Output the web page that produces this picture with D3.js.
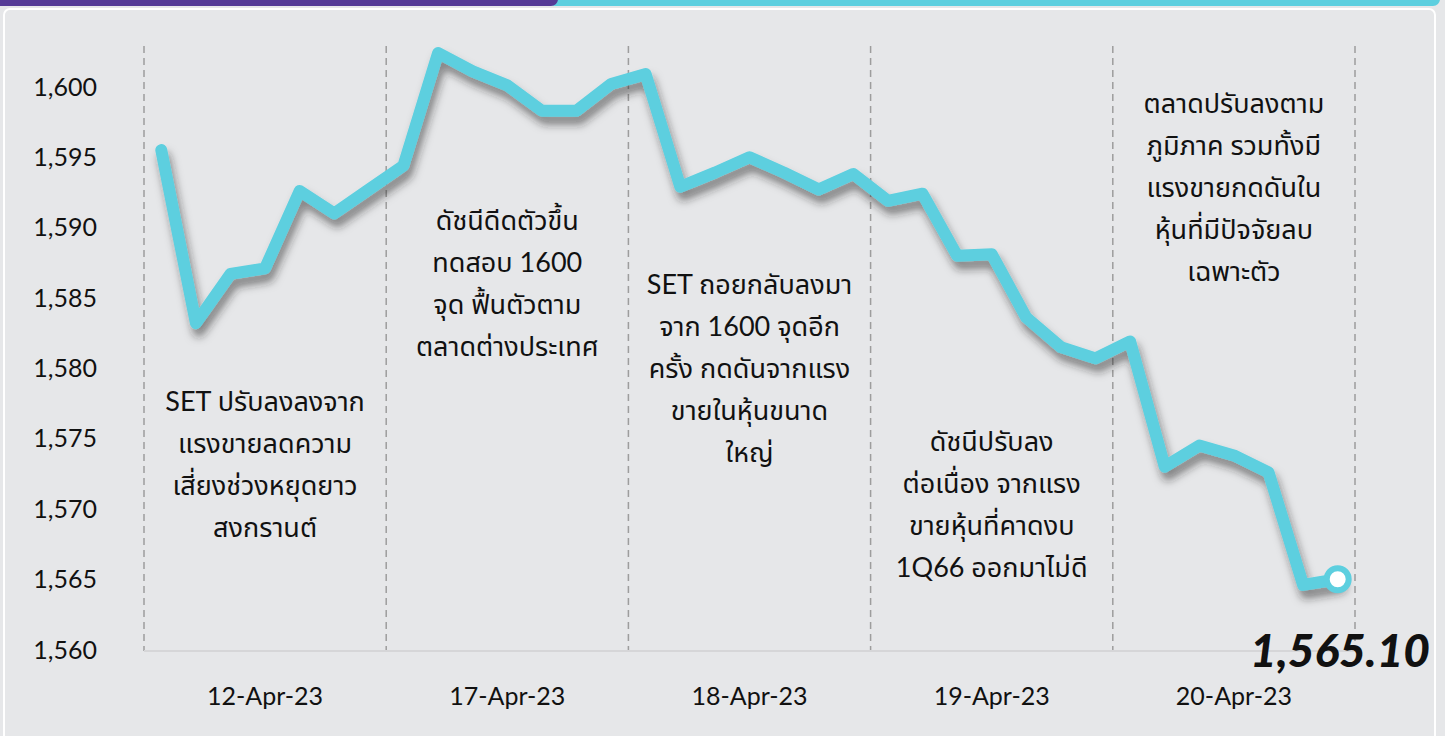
<!DOCTYPE html>
<html>
<head>
<meta charset="utf-8">
<script src="https://cdn.jsdelivr.net/npm/d3@7"></script>
<style>
  html, body { margin: 0; padding: 0; background: #e6e7e9; }
  svg { display: block; }
  text { font-family: "Lato", "Noto Sans Thai", "Noto Sans", sans-serif; fill: #111; }
</style>
</head>
<body>
<svg id="chart" width="1445" height="736"></svg>
<script>
// days on the x axis, 7 readings per day
const days = ["12-Apr-23", "17-Apr-23", "18-Apr-23", "19-Apr-23", "20-Apr-23"];
const perDay = 7;

// SET index
const setIndex = [
  1595.6, 1583.3, 1586.8, 1587.2, 1592.7, 1591.1, 1592.8,
  1594.5, 1602.5, 1601.2, 1600.2, 1598.4, 1598.4, 1600.3,
  1601.0, 1593.0, 1594.0, 1595.1, 1594.0, 1592.8, 1593.9,
  1592.0, 1592.5, 1588.1, 1588.2, 1583.7, 1581.6, 1580.8,
  1582.0, 1573.1, 1574.6, 1573.9, 1572.7, 1564.7, 1565.1
];
const lastValue = "1,565.10";

const yTicks = [1560, 1565, 1570, 1575, 1580, 1585, 1590, 1595, 1600];

const notes = [
  ["SET ปรับลงลงจาก", "แรงขายลดความ", "เสี่ยงช่วงหยุดยาว", "สงกรานต์"],
  ["ดัชนีดีดตัวขึ้น", "ทดสอบ 1600", "จุด ฟื้นตัวตาม", "ตลาดต่างประเทศ"],
  ["SET ถอยกลับลงมา", "จาก 1600 จุดอีก", "ครั้ง กดดันจากแรง", "ขายในหุ้นขนาด", "ใหญ่"],
  ["ดัชนีปรับลง", "ต่อเนื่อง จากแรง", "ขายหุ้นที่คาดงบ", "1Q66 ออกมาไม่ดี"],
  ["ตลาดปรับลงตาม", "ภูมิภาค รวมทั้งมี", "แรงขายกดดันใน", "หุ้นที่มีปัจจัยลบ", "เฉพาะตัว"]
];
const noteTop = [402, 221, 285, 442, 104];

const svg = d3.select("#chart");
const plotL = 144, plotR = 1355, plotT = 46, plotB = 651;

// frame
svg.append("rect").attr("x", 4).attr("y", 9).attr("width", 1431).attr("height", 740)
  .attr("rx", 6).attr("fill", "#e6e7e9").attr("stroke", "#fff").attr("stroke-width", 2);
svg.append("rect").attr("x", 548).attr("y", -10).attr("width", 892).attr("height", 16)
  .attr("rx", 7).attr("fill", "#5dcfdf");
svg.append("rect").attr("x", -10).attr("y", -10).attr("width", 568).attr("height", 16)
  .attr("rx", 7).attr("fill", "#553a96");

const x = d3.scalePoint().domain(d3.range(setIndex.length)).range([plotL, plotR]).padding(0.5);
const xDay = d3.scaleBand().domain(days).range([plotL, plotR]);
const y = d3.scaleLinear().domain([1560, 1603]).range([plotB, plotT]);

// day separators
const seps = d3.range(days.length + 1).map(i => plotL + i * xDay.step());
svg.append("g").selectAll("line").data(seps).join("line")
  .attr("x1", d => d).attr("x2", d => d).attr("y1", plotT).attr("y2", plotB)
  .attr("stroke", "#9d9d9d").attr("stroke-width", 1.5).attr("stroke-dasharray", "7,5");

svg.append("line").attr("x1", plotL).attr("x2", plotR).attr("y1", plotB).attr("y2", plotB)
  .attr("stroke", "#d6d6d8").attr("stroke-width", 2);

// y axis
const yAxis = svg.append("g").attr("transform", `translate(${plotL},0)`)
  .call(d3.axisLeft(y).tickValues(yTicks).tickFormat(d3.format(",")).tickSize(0).tickPadding(47));
yAxis.select(".domain").remove();
yAxis.selectAll("text").style("font-size", "25px").attr("fill", "#111").attr("dy", "0.28em");

// x axis
const xAxis = svg.append("g").attr("transform", `translate(0,${plotB})`)
  .call(d3.axisBottom(xDay).tickSize(0).tickPadding(36));
xAxis.select(".domain").remove();
xAxis.selectAll("text").style("font-size", "25px").attr("fill", "#111");

// notes
notes.forEach((lines, i) => {
  const cx = xDay(days[i]) + xDay.bandwidth() / 2;
  const t = svg.append("text").attr("text-anchor", "middle").style("font-size", "27px")
    .attr("x", cx).attr("y", noteTop[i]);
  t.selectAll("tspan").data(lines).join("tspan")
    .attr("x", cx)
    .attr("dy", (d, j) => j === 0 ? "0.35em" : 42)
    .text(d => d);
});

// line with shadow
const defs = svg.append("defs");
const f = defs.append("filter").attr("id", "shadow").attr("x", "-10%").attr("y", "-10%")
  .attr("width", "130%").attr("height", "130%");
f.append("feDropShadow").attr("dx", 3).attr("dy", 8).attr("stdDeviation", 4)
  .attr("flood-color", "#222").attr("flood-opacity", 0.5);

const line = d3.line().x((d, i) => x(i)).y(d => y(d));
svg.append("path").datum(setIndex).attr("d", line).attr("fill", "none")
  .attr("stroke", "#5dcfdf").attr("stroke-width", 12)
  .attr("stroke-linejoin", "round").attr("stroke-linecap", "round")
  .attr("filter", "url(#shadow)");

const n = setIndex.length - 1;
svg.append("circle").attr("cx", x(n)).attr("cy", y(setIndex[n])).attr("r", 11)
  .attr("fill", "#fff").attr("stroke", "#5dcfdf").attr("stroke-width", 6);

svg.append("text").attr("x", 1430).attr("y", 667).attr("text-anchor", "end")
  .style("font-size", "46px").style("font-weight", 900).style("font-style", "italic")
  .text(lastValue);
</script>
</body>
</html>
